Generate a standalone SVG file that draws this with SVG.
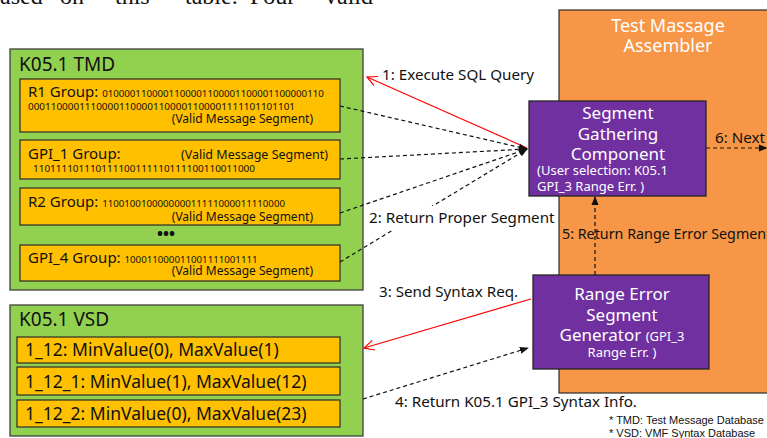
<svg xmlns="http://www.w3.org/2000/svg" width="767" height="438" viewBox="0 0 767 438">
  <defs>
    <style>
      .ui { font-family: "Noto Sans", "Open Sans", "DejaVu Sans", sans-serif; }
      .db { fill: #92d050; stroke: #3f3f3f; stroke-width: 1.3; }
      .item { fill: #ffc000; stroke: #2b2b2b; stroke-width: 1.2; }
      .comp { fill: #7030a0; stroke: #262626; stroke-width: 1.3; }
      .asm { fill: #f79646; stroke: #2b2b2b; stroke-width: 1.2; }
      .title { font-size: 19px; fill: #111; }
      .grp { font-size: 15px; fill: #111; }
      .bits { font-size: 9.7px; fill: #111; }
      .valid { font-size: 12px; fill: #111; }
      .valid.big { font-size: 12.5px; }
      .rng { font-size: 17.5px; fill: #111; }
      .wt { fill: #ffffff; }
      .lbl { font-size: 15.2px; fill: #111; }
      .lbl.tight { font-size: 14.3px; }
      .req { stroke: #ff0000; stroke-width: 1.2; fill: none; }
      .ret { stroke: #111; stroke-width: 1.2; stroke-dasharray: 4 3; fill: none; }
      .note { font-family: "Liberation Sans", Arial, sans-serif; font-size: 11px; fill: #111; }
      .body { font-family: "Liberation Serif", "Times New Roman", serif; font-size: 24px; fill: #111; }
    </style>
    <marker id="openRed" viewBox="0 0 12 12" refX="11" refY="6" markerWidth="12" markerHeight="12" markerUnits="userSpaceOnUse" orient="auto">
      <path d="M1,1 L11,6 L1,11" fill="none" stroke="#ff0000" stroke-width="1.2"/>
    </marker>
    <marker id="solidBlk" viewBox="0 0 10 10" refX="9" refY="5" markerWidth="9" markerHeight="9" markerUnits="userSpaceOnUse" orient="auto">
      <path d="M0,1 L10,5 L0,9 Z" fill="#111"/>
    </marker>
  </defs>

  <!-- running paragraph text above the figure -->
  <g id="paragraph" class="body">
    <text x="-12" y="4">based</text>
    <text x="60" y="4">on</text>
    <text x="115" y="4">this</text>
    <text x="185" y="4">table.</text>
    <text x="250" y="4">Four</text>
    <text x="325" y="4">valid</text>
  </g>

  <!-- assembler container -->
  <g id="assembler">
    <rect class="asm" x="559" y="10" width="230" height="383"/>
    <text class="ui wt" x="668" y="32" font-size="18" text-anchor="middle">Test Massage</text>
    <text class="ui wt" x="668" y="52" font-size="18" text-anchor="middle">Assembler</text>
  </g>

  <!-- test message database -->
  <g id="tmd" class="ui">
    <rect class="db" x="10" y="49" width="353" height="241"/>
    <text class="title" x="19" y="71">K05.1 TMD</text>
    <g id="tmd-r1">
      <rect class="item" x="20" y="79" width="320" height="53"/>
      <text class="grp" x="28" y="97">R1 Group: <tspan class="bits">0100001100001100001100001100001100000110</tspan></text>
      <text class="bits" x="28" y="110" textLength="267" lengthAdjust="spacingAndGlyphs">00011000011100001100001100001100001111101101101</text>
      <text class="valid" x="313" y="123" text-anchor="end">(Valid Message Segment)</text>
    </g>
    <g id="tmd-gpi1">
      <rect class="item" x="20" y="140" width="320" height="39"/>
      <text class="grp" x="28" y="159">GPI_1 Group:</text>
      <text class="valid big" x="328" y="159" text-anchor="end">(Valid Message Segment)</text>
      <text class="bits" x="33" y="172" textLength="222" lengthAdjust="spacingAndGlyphs">110111101110111100111110111100110011000</text>
    </g>
    <g id="tmd-r2">
      <rect class="item" x="20" y="188" width="320" height="37"/>
      <text class="grp" x="28" y="207">R2 Group: <tspan class="bits">110010010000000011111000011110000</tspan></text>
      <text class="valid" x="313" y="221" text-anchor="end">(Valid Message Segment)</text>
    </g>
    <text x="166" y="239" font-size="16" text-anchor="middle" fill="#111" font-weight="bold">•••</text>
    <g id="tmd-gpi4">
      <rect class="item" x="20" y="245" width="320" height="36"/>
      <text class="grp" x="28" y="263">GPI_4 Group: <tspan class="bits">100011000011001111001111</tspan></text>
      <text class="valid" x="313" y="275" text-anchor="end">(Valid Message Segment)</text>
    </g>
  </g>

  <!-- VMF syntax database -->
  <g id="vsd" class="ui">
    <rect class="db" x="10" y="305" width="353" height="131"/>
    <text class="title" x="19" y="326">K05.1 VSD</text>
    <g id="vsd-1_12">
      <rect class="item" x="17" y="337" width="323" height="26"/>
      <text class="rng" x="25" y="356">1_12: MinValue(0), MaxValue(1)</text>
    </g>
    <g id="vsd-1_12_1">
      <rect class="item" x="17" y="367" width="323" height="28"/>
      <text class="rng" x="25" y="388">1_12_1: MinValue(1), MaxValue(12)</text>
    </g>
    <g id="vsd-1_12_2">
      <rect class="item" x="17" y="400" width="323" height="27"/>
      <text class="rng" x="25" y="420">1_12_2: MinValue(0), MaxValue(23)</text>
    </g>
  </g>

  <!-- connectors -->
  <g id="connectors" class="ui">
    <line class="req" x1="527" y1="148" x2="367" y2="77" marker-end="url(#openRed)"/>
    <text class="lbl" x="382" y="80">1: Execute SQL Query</text>

    <line class="ret" x1="340" y1="106" x2="527" y2="149" marker-end="url(#solidBlk)"/>
    <line class="ret" x1="340" y1="159" x2="527" y2="149" marker-end="url(#solidBlk)"/>
    <line class="ret" x1="340" y1="213" x2="527" y2="149" marker-end="url(#solidBlk)"/>
    <line class="ret" x1="340" y1="262" x2="527" y2="149" marker-end="url(#solidBlk)"/>
    <rect x="366" y="206" width="191" height="24" fill="#ffffff"/>
    <text class="lbl" x="369" y="223">2: Return Proper Segment</text>

    <line class="req" x1="531" y1="299" x2="364" y2="348" marker-end="url(#openRed)"/>
    <text class="lbl" x="379" y="297">3: Send Syntax Req.</text>

    <line class="ret" x1="363" y1="399" x2="528" y2="348" marker-end="url(#solidBlk)"/>
    <text class="lbl" x="395" y="407">4: Return K05.1 GPI_3 Syntax Info.</text>

    <line class="ret" x1="595" y1="275" x2="595" y2="197" marker-end="url(#solidBlk)"/>
    <text class="lbl tight" x="562" y="239">5: Return Range Error Segment</text>

    <line class="ret" x1="706" y1="148" x2="767" y2="148" marker-end="url(#solidBlk)"/>
    <text class="lbl" x="715" y="143">6: Next</text>
  </g>

  <!-- components inside the assembler -->
  <g id="segment-gathering" class="ui">
    <rect class="comp" x="529" y="101" width="177" height="95"/>
    <text class="wt" x="618" y="119" font-size="17" text-anchor="middle">Segment</text>
    <text class="wt" x="618" y="140" font-size="17" text-anchor="middle">Gathering</text>
    <text class="wt" x="618" y="160" font-size="17" text-anchor="middle">Component</text>
    <text class="wt" x="537" y="175" font-size="13">(User selection: K05.1</text>
    <text class="wt" x="537" y="191" font-size="13">GPI_3 Range Err. )</text>
  </g>

  <g id="range-error-generator" class="ui">
    <rect class="comp" x="533" y="275" width="176" height="94"/>
    <text class="wt" x="622" y="300" font-size="17" text-anchor="middle">Range Error</text>
    <text class="wt" x="622" y="321" font-size="17" text-anchor="middle">Segment</text>
    <text class="wt" x="622" y="341" font-size="17" text-anchor="middle">Generator <tspan font-size="13">(GPI_3</tspan></text>
    <text class="wt" x="622" y="357" font-size="13" text-anchor="middle">Range Err. )</text>
  </g>

  <!-- footnotes -->
  <g id="legend">
    <text class="note" x="609" y="424">* TMD: Test Message Database</text>
    <text class="note" x="609" y="437">* VSD: VMF Syntax Database</text>
  </g>
</svg>
